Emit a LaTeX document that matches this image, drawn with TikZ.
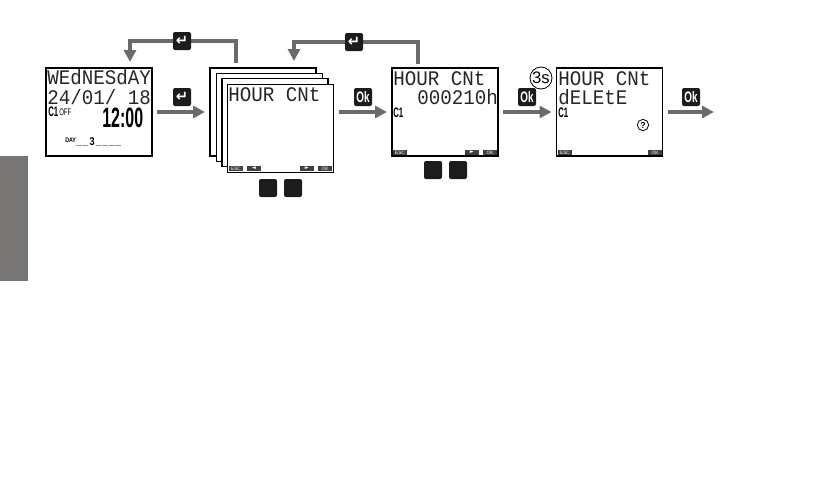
\documentclass[tikz,border=0pt]{standalone}
\usepackage{fontspec}
\setmonofont{Liberation Mono}
\setsansfont{Liberation Sans}
\newfontfamily\symfont{DejaVu Sans}
\usetikzlibrary{arrows.meta,calc}
\definecolor{FlowClr}{rgb}{0.42,0.42,0.42}
\definecolor{TabClr}{rgb}{0.47,0.46,0.46}
\definecolor{KeyClr}{rgb}{0.11,0.11,0.11}

\newcommand{\segtext}[1]{\scalebox{1}[1.08]{\ttfamily\fontsize{14.4}{14.4}\selectfont #1}}
\newcommand{\tagtext}[1]{\scalebox{.65}[1.15]{\sffamily\bfseries\fontsize{9}{9}\selectfont #1}}
\newcommand{\oktext}{\scalebox{.78}[1.2]{\sffamily\bfseries\fontsize{9.5}{9.5}\selectfont Ok}}
\newcommand{\slotbar}{\_\kern.8pt}

\tikzset{
  screen/.style={draw=black,fill=white,line width=.9pt,minimum width=79.5pt,minimum height=66pt,inner sep=0pt,outer sep=0pt},
  flow/.style={draw=FlowClr,line width=3pt,-{Triangle[length=9pt,width=9pt]}},
  backline/.style={flow,shorten <=3pt,shorten >=4.5pt},
  nextline/.style={flow,shorten <=3.75pt,shorten >=3.75pt},
  keybox/.style={fill=KeyClr,rounded corners=1.5pt,minimum size=13.5pt,inner sep=0pt,outer sep=0pt,text=white},
  softbox/.style={fill=black!75,text=white,minimum width=10.5pt,minimum height=4pt,inner sep=0pt,font=\sffamily\fontsize{3.6}{3.6}\selectfont},
  seg/.style={anchor=base west,inner sep=0pt,text=black!85},
  tag/.style={anchor=west,inner sep=0pt}
}

\begin{document}
\begin{tikzpicture}[x=.75pt,y=-.75pt]
\useasboundingbox (0,0) rectangle (822,482);

% side tab
\fill[TabClr] (0,156) rectangle (28,281);

% screens
\node[screen,line width=1.5pt] (lcdA) at (99,112) {};
\node[screen] (sheetA) at (263,112) {};
\node[screen] (sheetB) at (269.5,117.5) {};
\node[screen] (sheetC) at (275,122.5) {};
\node[screen] (sheetD) at (280.5,128.5) {};
\node[screen] (lcdC) at (445,112) {};
\node[screen] (lcdD) at (609.5,112) {};

% first screen
\node[seg] (dayname) at (47,84.5) {\segtext{WEdNESdAY}};
\node[seg] (datetext) at (47,104) {\segtext{24/01/ 18}};
\node[tag] (chanA) at (48,112) {\tagtext{C1}};
\node[tag] (offtext) at (59,112.5) {\scalebox{.7}[1.1]{\sffamily\fontsize{6.5}{6.5}\selectfont OFF}};
\node[tag] (clock) at (102,118) {\scalebox{1}[1.75]{\sffamily\bfseries\fontsize{12}{12}\selectfont 12:00}};
\node[tag] (daytag) at (65,140) {\scalebox{.8}[1]{\sffamily\bfseries\fontsize{5}{5}\selectfont DAY}};
\node[anchor=base west,inner sep=0pt] (dayrow) at (76,145) {\ttfamily\fontsize{7}{7}\selectfont \slotbar\slotbar\scalebox{.8}[1]{\sffamily\bfseries\fontsize{8.5}{8.5}\selectfont 3}\kern.8pt\slotbar\slotbar\slotbar\slotbar};

% counter screens
\node[seg] (hourD) at (228,101) {\segtext{HOUR CNt}};
\node[seg] (hourC) at (393,85) {\segtext{HOUR CNt}};
\node[seg] (hourvalue) at (417,104) {\segtext{000210h}};
\node[tag] (chanC) at (393,112.5) {\tagtext{C1}};
\node[seg] (hourE) at (558,85) {\segtext{HOUR CNt}};
\node[seg] (deltext) at (558,104) {\segtext{dELEtE}};
\node[tag] (chanE) at (558,112.5) {\tagtext{C1}};
\node[draw=black,circle,line width=.6pt,inner sep=0pt,minimum size=8.5pt,font=\sffamily\bfseries\fontsize{6.5}{6.5}\selectfont] (asktext) at (643,125) {?};

% soft keys
\node[softbox] (escD) at (236,168.5) {ESC};
\node[softbox] (leftD) at (254,168.5) {\symfont\fontsize{4}{4}\selectfont ◄};
\node[softbox] (rightD) at (307,168.5) {\symfont\fontsize{4}{4}\selectfont ►};
\node[softbox] (okD) at (325,168.5) {OK};
\node[softbox] (escC) at (400,152.5) {ESC};
\node[softbox] (rightC) at (472,152.5) {\symfont\fontsize{4}{4}\selectfont ►};
\node[softbox] (okC) at (490,152.5) {OK};
\node[softbox] (escE) at (565,152.5) {ESC};
\node[softbox] (okE) at (655,152.5) {OK};

% connectors
\coordinate (intoA) at (130,68);
\coordinate (backA) at (236,67);
\coordinate (intoB) at (294,67);
\coordinate (backB) at (418,68);
\coordinate (nextend) at (719,112);

\draw[nextline] (lcdA.east) -- (sheetA.west);
\draw[nextline] (sheetD.east |- lcdC.west) -- (lcdC.west);
\draw[nextline] (lcdC.east) -- (lcdD.west);
\draw[nextline] (lcdD.east) -- (nextend);
\draw[backline] (backA) -- ++(0,-26) -| (intoA);
\draw[backline] (backB) -- ++(0,-26) -| (intoB);

% keys
\node[keybox,font=\symfont\bfseries\fontsize{11}{11}\selectfont] (enterA) at (182,41) {↵};
\node[keybox,font=\symfont\bfseries\fontsize{11}{11}\selectfont] (enterB) at (182,97) {↵};
\node[keybox,font=\symfont\bfseries\fontsize{11}{11}\selectfont] (enterC) at (354,42) {↵};
\node[keybox] (okkeyA) at (363,97) {\oktext};
\node[keybox] (okkeyB) at (527,97) {\oktext};
\node[keybox] (okkeyC) at (691,97) {\oktext};
\node[keybox] (blankA) at (268,188) {};
\node[keybox] (blankB) at (293,188) {};
\node[keybox] (blankC) at (433,170) {};
\node[keybox] (blankD) at (458,170) {};

\node[draw=black,fill=white,circle,line width=.6pt,inner sep=0pt,minimum size=16.5pt,font=\sffamily\fontsize{12.5}{12.5}\selectfont] (holdtime) at (541,78) {3s};

\end{tikzpicture}
\end{document}
